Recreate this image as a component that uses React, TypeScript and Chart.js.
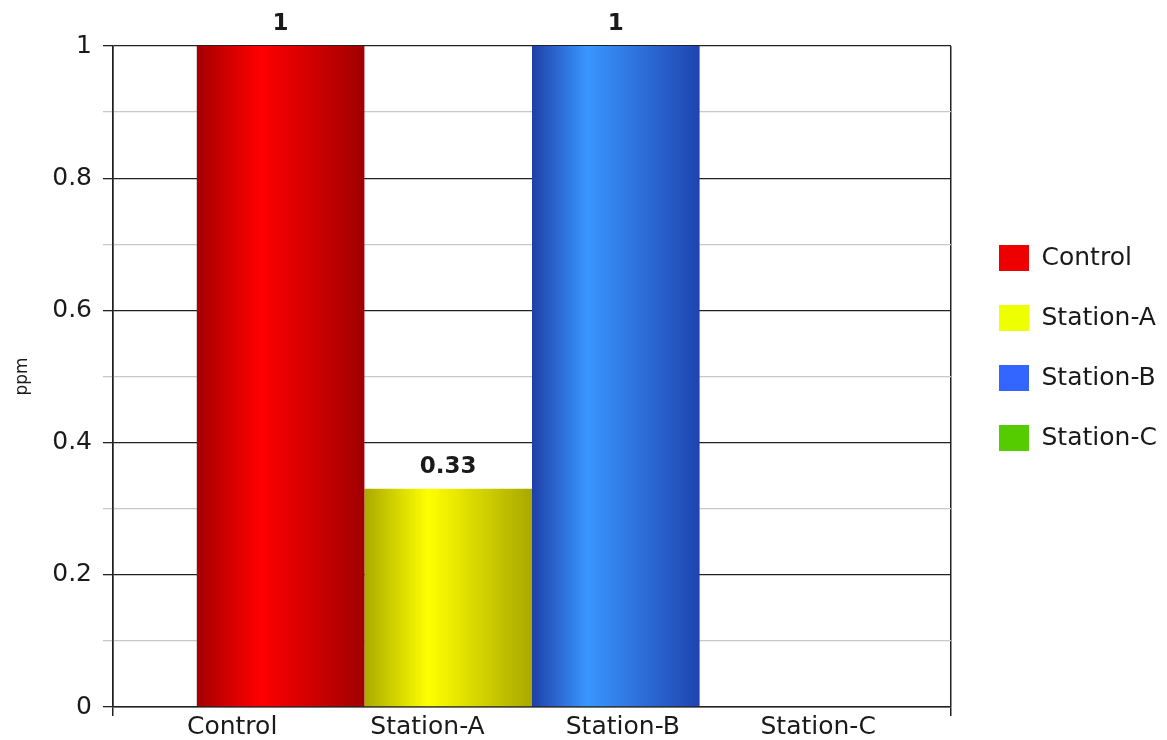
import React, { useEffect, useRef } from "react";
import { Chart, registerables } from "chart.js";

Chart.register(...registerables);

const CATEGORIES = ["Control", "Station-A", "Station-B", "Station-C"];
const VALUES = [1, 0.33, 1, 0];
const Y_MIN = 0;
const Y_MAX = 1;
const Y_STEP = 0.1;
const Y_AXIS_TITLE = "ppm";

const LEGEND_COLORS = ["#ee0000", "#eeff00", "#3366ff", "#55cc00"];
const GRADIENT_STOPS: [number, string][][] = [
  [[0, "#a40000"], [0.38, "#ff0000"], [1, "#a00000"]],
  [[0, "#aaaa00"], [0.38, "#ffff00"], [1, "#a8a800"]],
  [[0, "#1e40a8"], [0.33, "#3a96ff"], [1, "#1f44b0"]],
  [[0, "#2f9900"], [0.38, "#66ee00"], [1, "#2d9000"]],
];

const TEXT = "#1a1a1a";
const isMajor = (v: number) => Math.round(v * 10) % 2 === 0;
const fmt = (v: number) => String(Math.round(v * 10) / 10);

const gradientPlugin = {
  id: "barGradient",
  beforeDatasetsDraw(chart: any) {
    const ctx = chart.ctx;
    chart.data.datasets.forEach((_ds: any, i: number) => {
      const meta = chart.getDatasetMeta(i);
      meta.data.forEach((el: any) => {
        const { x, width } = el.getProps(["x", "width"], true);
        if (!isFinite(x) || !isFinite(width)) return;
        const g = ctx.createLinearGradient(x - width / 2, 0, x + width / 2, 0);
        GRADIENT_STOPS[i].forEach(([o, c]) => g.addColorStop(o, c));
        try {
          el.options.backgroundColor = g;
        } catch (e) {
          el.options = Object.assign({}, el.options, { backgroundColor: g });
        }
      });
    });
  },
};

const valueLabelPlugin = {
  id: "valueLabels",
  afterDatasetsDraw(chart: any) {
    const ctx = chart.ctx;
    ctx.save();
    ctx.font = "bold 23px 'DejaVu Sans'";
    ctx.fillStyle = TEXT;
    ctx.textAlign = "center";
    ctx.textBaseline = "bottom";
    chart.data.datasets.forEach((ds: any, i: number) => {
      const meta = chart.getDatasetMeta(i);
      meta.data.forEach((el: any, j: number) => {
        const v = ds.data[j];
        if (!v) return;
        ctx.fillText(String(v), el.x, el.y - 10);
      });
    });
    ctx.restore();
  },
};

export default function App() {
  const ref = useRef<HTMLCanvasElement | null>(null);

  useEffect(() => {
    if (!ref.current) return;
    Chart.defaults.font.family = "'DejaVu Sans'";
    const chart = new Chart(ref.current, {
      type: "bar",
      data: {
        labels: [""],
        datasets: CATEGORIES.map((c, i) => ({
          label: c,
          data: [VALUES[i]],
          backgroundColor: LEGEND_COLORS[i],
          borderWidth: 0,
          categoryPercentage: 0.8,
          barPercentage: 1,
          xAxisID: "x",
          yAxisID: "y",
        })),
      },
      options: {
        responsive: false,
        animation: false,
        layout: { padding: { top: 38, left: 0, right: 0, bottom: 0 } },
        plugins: {
          tooltip: { enabled: false },
          legend: {
            position: "right",
            align: "start",
            maxWidth: 194,
            title: {
              display: true,
              text: " ",
              font: { size: 10, lineHeight: 1 },
              padding: { top: 155, bottom: 0 },
            },
            labels: {
              boxWidth: 30,
              boxHeight: 26,
              padding: 34,
              color: TEXT,
              font: { size: 25 },
              generateLabels: (chart: any) =>
                chart.data.datasets.map((ds: any, i: number) => ({
                  text: ds.label,
                  fillStyle: LEGEND_COLORS[i],
                  strokeStyle: LEGEND_COLORS[i],
                  lineWidth: 0,
                  fontColor: TEXT,
                  hidden: false,
                  datasetIndex: i,
                })),
            },
          },
        },
        scales: {
          x: {
            type: "category",
            position: "bottom",
            weight: 0,
            offset: true,
            grid: {
              offset: true,
              color: "#222",
              lineWidth: 1.5,
              tickLength: 9,
              tickColor: "#222",
            },
            border: { display: true, color: "#222", width: 1.5 },
            ticks: { display: false },
            afterFit: (s: any) => {
              s.height = 2;
            },
          },
          x2: {
            type: "linear",
            position: "bottom",
            weight: 1,
            offset: false,
            min: -0.61,
            max: 3.68,
            grid: { display: false, drawTicks: false, offset: false },
            border: { display: false },
            ticks: {
              stepSize: 1,
              includeBounds: false,
              autoSkip: false,
              maxRotation: 0,
              minRotation: 0,
              padding: 3,
              color: TEXT,
              font: { size: 25 },
              callback: (v: any) => CATEGORIES[v] ?? "",
            },
            afterFit: (s: any) => {
              s.height = 31;
            },
          },
          gap: {
            type: "linear",
            position: "right",
            display: true,
            offset: false,
            grid: { display: false, drawTicks: false },
            border: { display: false },
            ticks: { display: false },
            afterFit: (s: any) => {
              s.width = 14;
            },
          },
          y: {
            min: Y_MIN,
            max: Y_MAX,
            grid: {
              color: (c: any) => (isMajor(c.tick.value) ? "#222" : "#c8c8c8"),
              tickColor: (c: any) => (isMajor(c.tick.value) ? "#222" : "#c8c8c8"),
              lineWidth: 1.3,
              tickLength: 10,
            },
            border: { display: true, color: "#222", width: 1.5 },
            ticks: {
              stepSize: Y_STEP,
              autoSkip: false,
              padding: 11,
              color: TEXT,
              font: { size: 25 },
              callback: (v: any) => (isMajor(Number(v)) ? fmt(Number(v)) : ""),
            },
            title: {
              display: true,
              text: Y_AXIS_TITLE,
              color: TEXT,
              font: { size: 17 },
            },
            afterFit: (s: any) => {
              s.width = 105;
            },
          },
        },
      },
      plugins: [gradientPlugin, valueLabelPlugin],
    } as any);
    return () => chart.destroy();
  }, []);

  return (
    <div style={{ width: 1151, height: 732 }}>
      <canvas ref={ref} width={1151} height={732} style={{ display: "block" }} />
    </div>
  );
}
